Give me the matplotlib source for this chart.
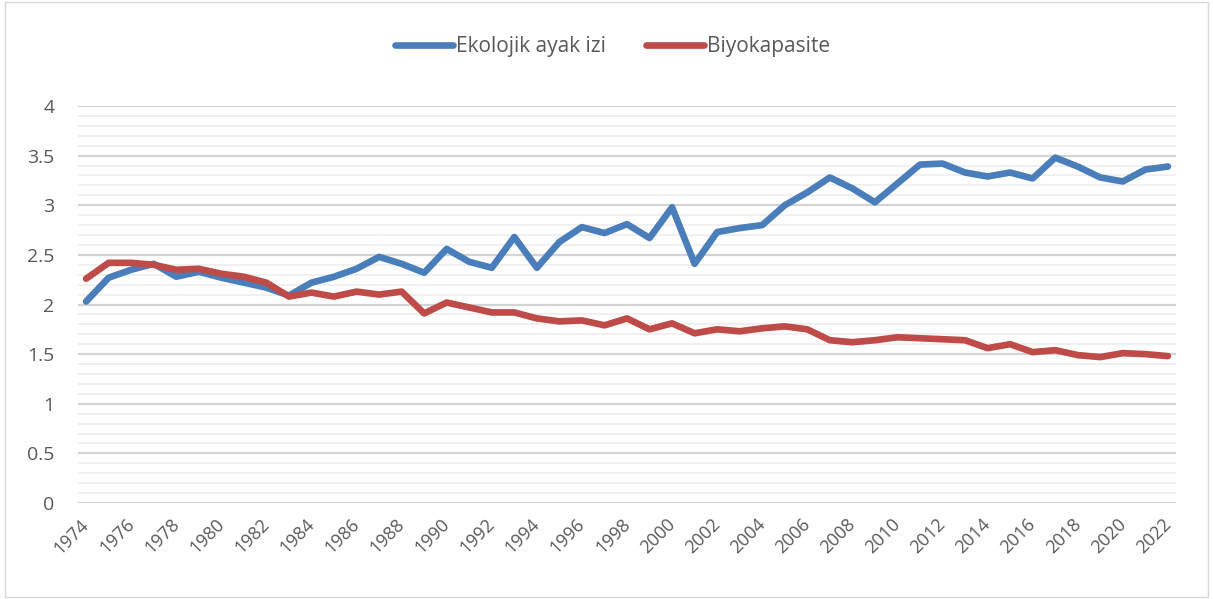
import matplotlib.pyplot as plt
import matplotlib.ticker as ticker
import matplotlib.transforms as mtransforms
from matplotlib.patches import Rectangle

years = list(range(1974, 2023))

# Ekolojik ayak izi (küresel hektar / kişi)
ekolojik_ayak_izi = [
    2.03, 2.27, 2.35, 2.41, 2.28, 2.33, 2.27, 2.22, 2.17, 2.09,
    2.22, 2.28, 2.36, 2.48, 2.41, 2.32, 2.56, 2.43, 2.37, 2.68,
    2.37, 2.63, 2.78, 2.72, 2.81, 2.67, 2.98, 2.41, 2.73, 2.77,
    2.80, 3.00, 3.13, 3.28, 3.17, 3.03, 3.22, 3.41, 3.42, 3.33,
    3.29, 3.33, 3.27, 3.48, 3.39, 3.28, 3.24, 3.36, 3.39,
]

# Biyokapasite (küresel hektar / kişi)
biyokapasite = [
    2.26, 2.42, 2.42, 2.40, 2.35, 2.36, 2.31, 2.28, 2.22, 2.08,
    2.12, 2.08, 2.13, 2.10, 2.13, 1.91, 2.02, 1.97, 1.92, 1.92,
    1.86, 1.83, 1.84, 1.79, 1.86, 1.75, 1.81, 1.71, 1.75, 1.73,
    1.76, 1.78, 1.75, 1.64, 1.62, 1.64, 1.67, 1.66, 1.65, 1.64,
    1.56, 1.60, 1.52, 1.54, 1.49, 1.47, 1.51, 1.50, 1.48,
]

plt.rcParams['font.family'] = ['Open Sans', 'DejaVu Sans']
text_color = '#595959'

fig = plt.figure(figsize=(12.13, 5.99), dpi=100)
ax = fig.add_axes([0.0643, 0.1603, 0.9052, 0.6627])

# chart area outline
fig.patches.append(Rectangle((0.004, 0.004), 0.992, 0.992, transform=fig.transFigure,
                             fill=False, edgecolor='#d9d9d9', linewidth=1.0))

ax.plot(years, ekolojik_ayak_izi, color='#4a7ebb', linewidth=4.8,
        solid_capstyle='round', solid_joinstyle='round', label='Ekolojik ayak izi')
ax.plot(years, biyokapasite, color='#be4b48', linewidth=4.8,
        solid_capstyle='round', solid_joinstyle='round', label='Biyokapasite')

ax.set_ylim(0, 4)
ax.set_xlim(years[0] - 0.36, years[-1] + 0.36)
ax.yaxis.set_major_locator(ticker.MultipleLocator(0.5))
ax.yaxis.set_minor_locator(ticker.MultipleLocator(0.1))
ax.yaxis.set_major_formatter(ticker.FuncFormatter(lambda v, _: f"{v:g}"))
ax.set_xticks(years[::2])

ax.grid(which='major', axis='y', color='#d4d4d4', linewidth=1.6)
ax.grid(which='minor', axis='y', color='#ececec', linewidth=1.1)
ax.set_axisbelow(True)

for s in ax.spines.values():
    s.set_visible(False)
ax.tick_params(axis='both', which='both', length=0)
ax.tick_params(axis='y', pad=17, labelsize=14, labelcolor=text_color)
ax.tick_params(axis='x', pad=9, labelsize=13, labelcolor=text_color)
shift = mtransforms.ScaledTranslation(-6 / 100, 0, fig.dpi_scale_trans)
for lbl in ax.get_xticklabels():
    lbl.set_rotation(45)
    lbl.set_ha('right')
    lbl.set_va('top')
    lbl.set_rotation_mode('anchor')
    lbl.set_transform(lbl.get_transform() + shift)

leg = ax.legend(loc='center', bbox_to_anchor=(0.487, 1.149), ncol=2, frameon=False,
                fontsize=15, handlelength=2.8, handletextpad=0.15, columnspacing=1.9,
                labelcolor=text_color)
for h in leg.get_lines():
    h.set_linewidth(4.8)

fig.savefig('out.png', dpi=100)
